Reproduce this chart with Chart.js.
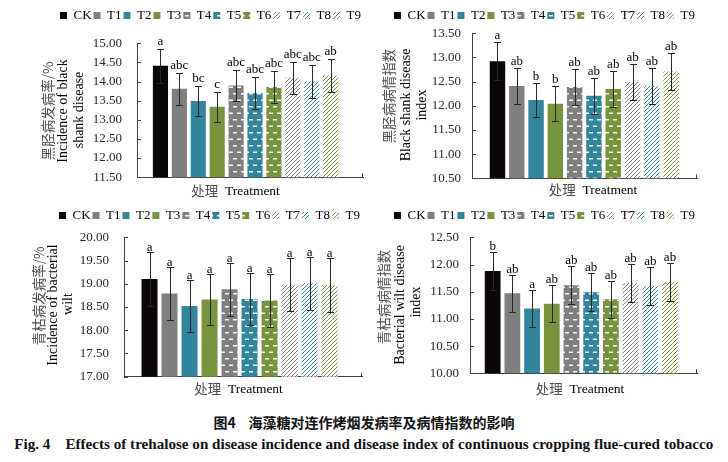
<!DOCTYPE html>
<html>
<head>
<meta charset="utf-8">
<script src="https://cdn.jsdelivr.net/npm/chart.js@4.4.1/dist/chart.umd.min.js"></script>
<style>
html, body { margin: 0; padding: 0; background: #fff; }
#page { position: relative; width: 728px; height: 462px; overflow: hidden; }
canvas { position: absolute; }
.cap { position: absolute; left: 0; width: 728px; text-align: center; white-space: nowrap; line-height: 18px; }
</style>
</head>
<body>
<div id="page">
  <canvas id="c1" width="364" height="200" style="left:0;top:0"></canvas>
  <canvas id="c2" width="364" height="200" style="left:364px;top:0"></canvas>
  <canvas id="c3" width="364" height="200" style="left:0;top:200px"></canvas>
  <canvas id="c4" width="364" height="200" style="left:364px;top:200px"></canvas>
  <div class="cap" style="top:412px;font:bold 14px 'Noto Sans CJK SC';color:#111">图4&nbsp;&nbsp;&nbsp;&nbsp;海藻糖对连作烤烟发病率及病情指数的影响</div>
  <div class="cap" style="top:435px"><span id="cap2" style="display:inline-block;font:bold 14px 'Liberation Serif';color:#111">Fig. 4&nbsp;&nbsp;&nbsp;&nbsp;Effects of trehalose on disease incidence and disease index of continuous cropping flue-cured tobacco</span></div>
</div>
<script>
// categories (treatments)
const categories = ['CK', 'T1', 'T2', 'T3', 'T4', 'T5', 'T6', 'T7', 'T8', 'T9'];

// 黑胫病发病率 / incidence of black shank (%)
const blackIncidence = [14.41, 13.81, 13.49, 13.34, 13.90, 13.70, 13.86, 14.10, 14.00, 14.16];
const blackIncidenceSd = [0.44, 0.41, 0.40, 0.40, 0.41, 0.41, 0.42, 0.42, 0.42, 0.42];
const blackIncidenceSig = ['a', 'abc', 'bc', 'c', 'abc', 'abc', 'abc', 'abc', 'abc', 'ab'];
const blackIncidenceRange = [11.5, 15.0];

// 黑胫病病情指数 / black shank disease index
const blackIndex = [12.92, 12.41, 12.12, 12.04, 12.39, 12.21, 12.35, 12.49, 12.41, 12.71];
const blackIndexSd = [0.39, 0.37, 0.36, 0.36, 0.37, 0.37, 0.375, 0.37, 0.365, 0.38];
const blackIndexSig = ['a', 'ab', 'b', 'b', 'ab', 'ab', 'ab', 'ab', 'ab', 'ab'];
const blackIndexRange = [10.5, 13.5];

// 青枯病发病率 / incidence of bacterial wilt (%)
const wiltIncidence = [19.10, 18.79, 18.52, 18.66, 18.88, 18.67, 18.64, 18.98, 19.01, 18.97];
const wiltIncidenceSd = [0.575, 0.565, 0.56, 0.555, 0.565, 0.565, 0.56, 0.565, 0.565, 0.575];
const wiltIncidenceSig = ['a', 'a', 'a', 'a', 'a', 'a', 'a', 'a', 'a', 'a'];
const wiltIncidenceRange = [17.0, 20.0];

// 青枯病病情指数 / bacterial wilt disease index
const wiltIndex = [11.88, 11.47, 11.19, 11.28, 11.62, 11.49, 11.36, 11.66, 11.60, 11.68];
const wiltIndexSd = [0.345, 0.345, 0.34, 0.34, 0.345, 0.345, 0.34, 0.35, 0.35, 0.345];
const wiltIndexSig = ['b', 'ab', 'a', 'ab', 'ab', 'ab', 'ab', 'ab', 'ab', 'ab'];
const wiltIndexRange = [10.0, 12.5];

// estilos de las barras
const barColors = ['#0c0707', '#7f7f7f', '#31859c', '#77933c', '#7f7f7f', '#31859c', '#77933c', '#7f7f7f', '#31859c', '#77933c'];
const barFills = ['solid', 'solid', 'solid', 'solid', 'dash', 'dash', 'dash', 'hatch', 'hatch', 'hatch'];

const SERIF = '"Liberation Serif", "Times New Roman", serif';
const CJK = '"Noto Sans CJK SC", sans-serif';

function makeFill(kind, color, ctx) {
    if (kind === 'solid') return color;
    const c = document.createElement('canvas');
    const g = c.getContext('2d');
    if (kind === 'dash') {
        c.width = 8; c.height = 13;
        g.fillStyle = color; g.fillRect(0, 0, 8, 13);
        g.fillStyle = 'rgba(255,255,255,0.95)';
        g.fillRect(1, 2, 4, 1.5);
        g.fillRect(5, 8.5, 4, 1.5);
        g.fillRect(-3, 8.5, 4, 1.5);
    } else {
        c.width = 4; c.height = 4;
        g.fillStyle = '#fff'; g.fillRect(0, 0, 4, 4);
        g.strokeStyle = color; g.lineWidth = 1;
        g.beginPath();
        g.moveTo(-1, 5); g.lineTo(5, -1);
        g.moveTo(-1, 1); g.lineTo(1, -1);
        g.moveTo(3, 5); g.lineTo(5, 3);
        g.stroke();
    }
    return ctx.createPattern(c, 'repeat');
}

// separa la leyenda del área del gráfico
function legendGap(h) {
    return {
        id: 'legendGap',
        beforeInit(chart) {
            const lg = chart.legend;
            if (!lg) return;
            const fit = lg.fit;
            lg.fit = function () { fit.call(this); this.height = h; };
        }
    };
}

// barras de error, letras y marcas del eje
function errorBars(cfg) {
    return {
        id: 'errorBars',
        afterDatasetsDraw(chart) {
            const { ctx, chartArea } = chart;
            const ys = chart.scales.y;
            const meta = chart.getDatasetMeta(0);
            ctx.save();
            ctx.strokeStyle = '#262626';
            ctx.lineWidth = 1;
            meta.data.forEach((bar, i) => {
                const x = Math.round(bar.x) + 0.5;
                const top = Math.round(ys.getPixelForValue(cfg.values[i] + cfg.sd[i])) + 0.5;
                const bot = Math.round(ys.getPixelForValue(cfg.values[i] - cfg.sd[i])) + 0.5;
                ctx.beginPath();
                ctx.moveTo(x, top); ctx.lineTo(x, bot);
                ctx.moveTo(x - 3.5, top); ctx.lineTo(x + 3.5, top);
                ctx.moveTo(x - 3.5, bot); ctx.lineTo(x + 3.5, bot);
                ctx.stroke();
                ctx.fillStyle = '#000';
                ctx.font = '13px ' + SERIF;
                ctx.textAlign = 'center';
                ctx.textBaseline = 'alphabetic';
                ctx.fillText(cfg.sig[i], bar.x, top - cfg.sigGap);
            });
            // marcas hacia dentro
            ctx.strokeStyle = '#404040';
            ctx.beginPath();
            ys.ticks.forEach(t => {
                const py = Math.round(ys.getPixelForValue(t.value)) + 0.5;
                ctx.moveTo(chartArea.left, py); ctx.lineTo(chartArea.left + 4, py);
            });
            const rx = Math.round(chartArea.right) - 0.5;
            ctx.moveTo(rx, chartArea.bottom); ctx.lineTo(rx, chartArea.bottom - 4);
            ctx.stroke();
            ctx.restore();
        }
    };
}

// títulos de los ejes
function axisTitles(cfg) {
    return {
        id: 'axisTitles',
        afterDraw(chart) {
            const { ctx } = chart;
            ctx.save();
            cfg.yTitle.forEach(l => {
                ctx.save();
                ctx.translate(l.x, l.y);
                ctx.rotate(-Math.PI / 2);
                ctx.textAlign = 'center';
                ctx.textBaseline = 'middle';
                ctx.font = l.cjk ? '13.5px ' + CJK : '14px ' + SERIF;
                ctx.fillStyle = l.cjk ? '#4d4d4d' : '#000';
                ctx.fillText(l.t, 0, 0);
                ctx.restore();
            });
            const cn = '处理', en = 'Treatment';
            ctx.textBaseline = 'middle';
            ctx.textAlign = 'left';
            ctx.font = '13.5px ' + CJK;
            const w1 = ctx.measureText(cn + '\u2002').width;
            ctx.font = '13.5px ' + SERIF;
            const w2 = ctx.measureText(en).width;
            let x0 = cfg.xTitle.x - (w1 + w2) / 2;
            ctx.font = '13.5px ' + CJK;
            ctx.fillStyle = '#4d4d4d';
            ctx.fillText(cn, x0, cfg.xTitle.y);
            ctx.font = '13.5px ' + SERIF;
            ctx.fillStyle = '#000';
            ctx.fillText(en, x0 + w1, cfg.xTitle.y);
            ctx.restore();
        }
    };
}

function makePanel(id, cfg) {
    const ctx = document.getElementById(id).getContext('2d');
    const fills = categories.map((c, i) => makeFill(barFills[i], barColors[i], ctx));
    const points = cfg.values.map((v, i) => ({ x: i, y: v }));
    return new Chart(ctx, {
        type: 'bar',
        data: {
            datasets: [{
                data: points,
                backgroundColor: fills,
                borderWidth: 0,
                barPercentage: 0.8,
                categoryPercentage: 1
            }]
        },
        options: {
            responsive: false,
            animation: false,
            events: [],
            layout: { padding: { top: 7, left: 0, right: 364 - cfg.area.right, bottom: 0 } },
            plugins: {
                legend: {
                    position: 'top',
                    align: 'end',
                    labels: {
                        boxWidth: 7,
                        boxHeight: 7,
                        padding: 2,
                        color: '#000',
                        font: { family: SERIF, size: 13 },
                        generateLabels: () => categories.map((c, i) => ({
                            text: c, fillStyle: fills[i], strokeStyle: 'rgba(0,0,0,0)',
                            lineWidth: 0, hidden: false, index: i, datasetIndex: 0
                        }))
                    }
                },
                tooltip: { enabled: false }
            },
            scales: {
                x: {
                    type: 'linear',
                    offset: false,
                    min: cfg.xRange[0],
                    max: cfg.xRange[1],
                    ticks: { display: false },
                    grid: { display: false, drawTicks: false },
                    border: { display: true, color: '#404040', width: 1 },
                    afterFit: s => { s.height = 200 - cfg.area.bottom; }
                },
                y: {
                    min: cfg.range[0],
                    max: cfg.range[1],
                    ticks: {
                        stepSize: 0.5,
                        padding: cfg.tickPad,
                        color: '#262626',
                        font: { family: SERIF, size: 13 },
                        callback: v => v.toFixed(2)
                    },
                    grid: { display: false, drawTicks: false },
                    border: { display: true, color: '#404040', width: 1 },
                    afterFit: s => { s.width = cfg.area.left; }
                }
            }
        },
        plugins: [legendGap(cfg.area.top - 7), errorBars(cfg), axisTitles(cfg)]
    });
}

makePanel('c1', {
    values: blackIncidence, sd: blackIncidenceSd, sig: blackIncidenceSig, range: blackIncidenceRange,
    area: { left: 137, right: 363, top: 43.3, bottom: 179 }, xRange: [-1.24, 10.71], tickPad: 15, sigGap: 5,
    yTitle: [
        { t: '黑胫病发病率/%', cjk: true, x: 47.5, y: 111 },
        { t: 'Incidence of black', x: 63.5, y: 111 },
        { t: 'shank disease', x: 79, y: 110 }
    ],
    xTitle: { x: 235.5, y: 191 }
});

makePanel('c2', {
    values: blackIndex, sd: blackIndexSd, sig: blackIndexSig, range: blackIndexRange,
    area: { left: 108, right: 333, top: 33.3, bottom: 178.3 }, xRange: [-1.32, 10.34], tickPad: 11, sigGap: 4,
    yTitle: [
        { t: '黑胫病病情指数', cjk: true, x: 25, y: 96 },
        { t: 'Black shank disease', x: 42.5, y: 105 },
        { t: 'index', x: 58.5, y: 105 }
    ],
    xTitle: { x: 229, y: 190 }
});

makePanel('c3', {
    values: wiltIncidence, sd: wiltIncidenceSd, sig: wiltIncidenceSig, range: wiltIncidenceRange,
    area: { left: 124, right: 362, top: 37.3, bottom: 176.7 }, xRange: [-1.275, 10.62], tickPad: 15, sigGap: 2,
    yTitle: [
        { t: '青枯病发病率/%', cjk: true, x: 39, y: 96 },
        { t: 'Incidence of bacterial', x: 53.5, y: 105 },
        { t: 'wilt', x: 68, y: 104 }
    ],
    xTitle: { x: 238.5, y: 189 }
});

makePanel('c4', {
    values: wiltIndex, sd: wiltIndexSd, sig: wiltIndexSig, range: wiltIndexRange,
    area: { left: 106, right: 333, top: 37.3, bottom: 173.3 }, xRange: [-1.15, 10.37], tickPad: 11, sigGap: 3,
    yTitle: [
        { t: '青枯病病情指数', cjk: true, x: 19.5, y: 97 },
        { t: 'Bacterial wilt disease', x: 36.5, y: 105 },
        { t: 'index', x: 52.5, y: 102 }
    ],
    xTitle: { x: 216, y: 189 }
});

// ajusta el ancho del pie en inglés
const cap2 = document.getElementById('cap2');
const w = cap2.getBoundingClientRect().width;
cap2.style.transform = 'scaleX(' + (699 / w).toFixed(4) + ')';
</script>
</body>
</html>
